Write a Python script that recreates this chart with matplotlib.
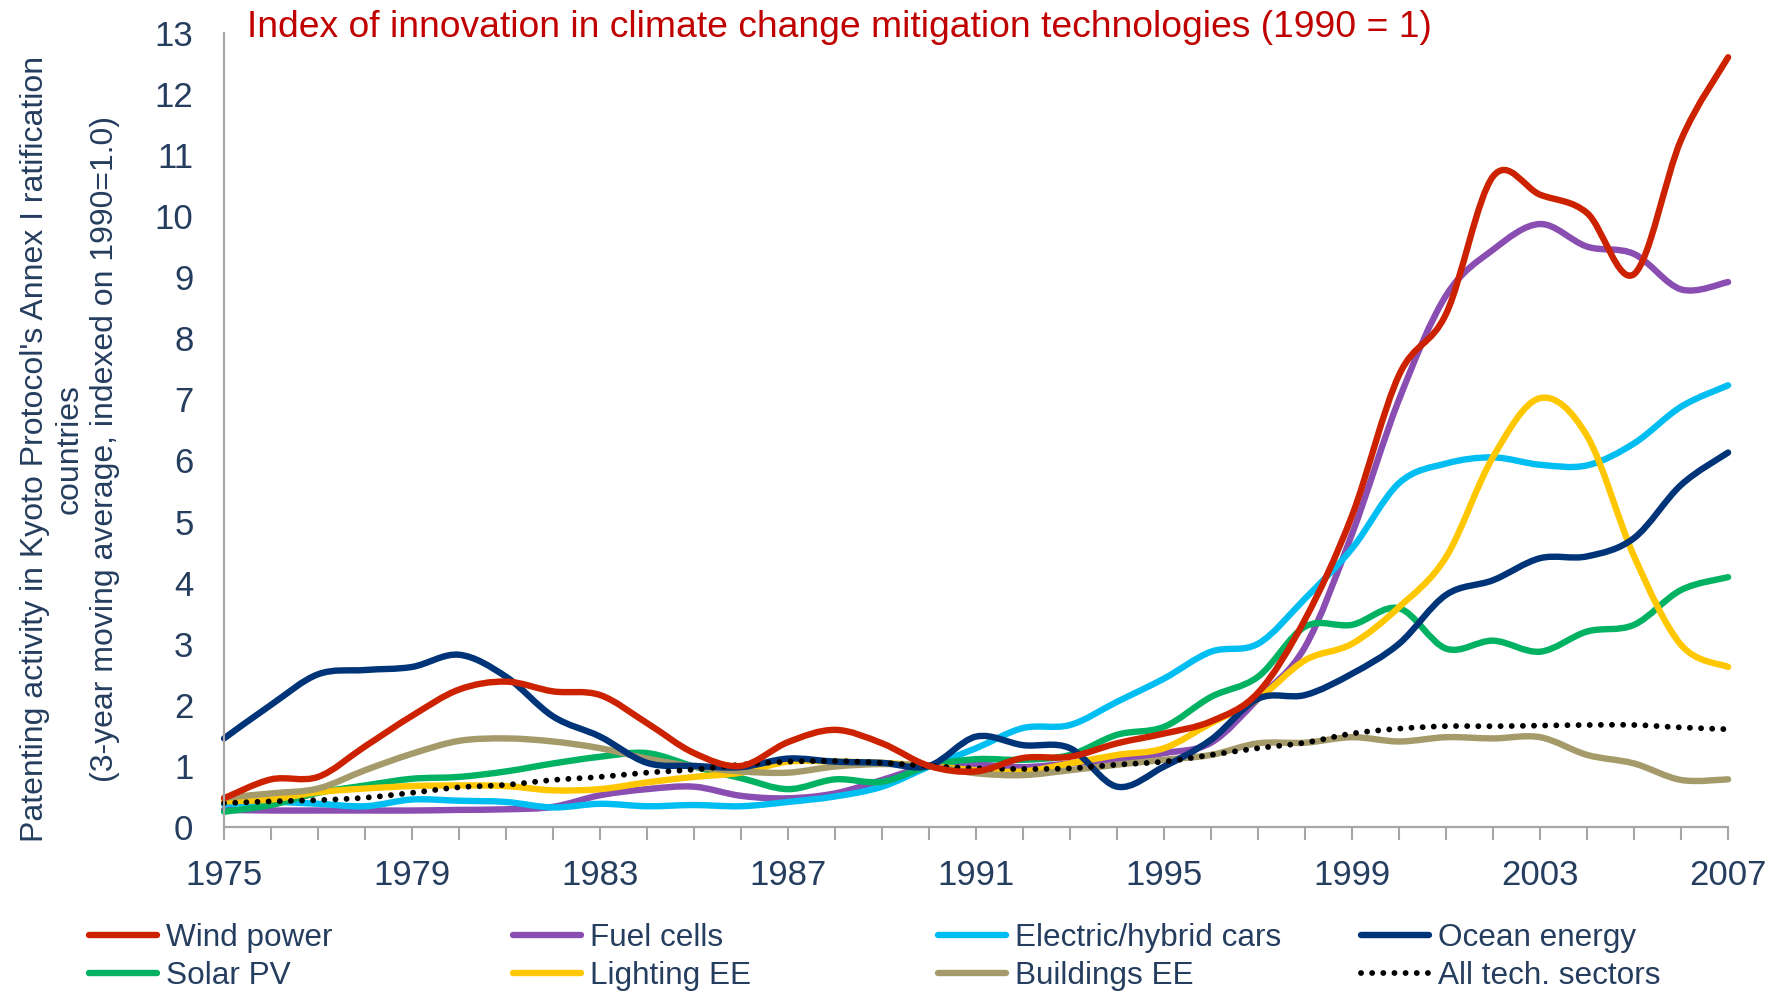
import matplotlib
matplotlib.use("Agg")
import matplotlib.pyplot as plt
import numpy as np
from matplotlib.path import Path
from matplotlib.patches import PathPatch
from matplotlib.lines import Line2D

plt.rcParams["font.family"] = ["Liberation Sans", "DejaVu Sans"]

# data (index, 1990 = 1)
years = list(range(1975, 2008))
wind = [0.47, 0.78, 0.82, 1.32, 1.82, 2.25, 2.38, 2.22, 2.16, 1.7, 1.21, 1.0, 1.39, 1.59, 1.37, 1.0,
        0.91, 1.13, 1.15, 1.37, 1.53, 1.73, 2.2, 3.4, 5.1, 7.4, 8.4, 10.65, 10.35, 10.05, 9.05, 11.25, 12.6]
fuel = [0.28, 0.27, 0.27, 0.27, 0.27, 0.28, 0.29, 0.33, 0.52, 0.62, 0.66, 0.51, 0.47, 0.55, 0.77, 1.0,
        1.02, 0.98, 1.04, 1.1, 1.21, 1.38, 2.1, 2.95, 4.8, 7.0, 8.7, 9.45, 9.87, 9.5, 9.38, 8.8, 8.92]
electric = [0.37, 0.41, 0.38, 0.34, 0.45, 0.43, 0.41, 0.32, 0.38, 0.34, 0.36, 0.34, 0.41, 0.5, 0.66, 0.99,
            1.29, 1.62, 1.67, 2.05, 2.43, 2.87, 3.0, 3.74, 4.56, 5.63, 5.95, 6.05, 5.93, 5.92, 6.28, 6.88, 7.23]
ocean = [1.45, 2.0, 2.5, 2.57, 2.62, 2.82, 2.46, 1.81, 1.48, 1.05, 1.0, 0.98, 1.12, 1.07, 1.05, 1.0,
         1.48, 1.34, 1.29, 0.66, 0.99, 1.43, 2.1, 2.16, 2.51, 3.0, 3.8, 4.04, 4.4, 4.43, 4.73, 5.6, 6.13]
solar = [0.25, 0.36, 0.56, 0.68, 0.79, 0.82, 0.91, 1.04, 1.15, 1.21, 0.99, 0.8, 0.62, 0.78, 0.74, 1.0,
         1.11, 1.1, 1.18, 1.51, 1.64, 2.13, 2.46, 3.28, 3.31, 3.58, 2.92, 3.05, 2.87, 3.2, 3.31, 3.88, 4.09]
lighting = [0.42, 0.45, 0.57, 0.63, 0.67, 0.68, 0.67, 0.6, 0.62, 0.73, 0.82, 0.89, 1.07, 1.07, 1.05, 1.0,
            0.93, 0.91, 1.04, 1.18, 1.29, 1.7, 2.1, 2.73, 3.0, 3.6, 4.42, 6.06, 7.02, 6.4, 4.43, 2.98, 2.62]
buildings = [0.48, 0.55, 0.63, 0.93, 1.2, 1.41, 1.45, 1.4, 1.29, 1.12, 0.99, 0.91, 0.89, 0.99, 1.03, 1.0,
             0.88, 0.85, 0.93, 1.02, 1.1, 1.18, 1.37, 1.38, 1.47, 1.4, 1.47, 1.45, 1.47, 1.18, 1.04, 0.77, 0.78]
all_tech = [0.39, 0.42, 0.44, 0.48, 0.56, 0.65, 0.69, 0.77, 0.82, 0.89, 0.94, 1.02, 1.07, 1.08, 1.05, 1.0,
            0.96, 0.95, 0.96, 1.02, 1.07, 1.18, 1.29, 1.38, 1.53, 1.61, 1.65, 1.65, 1.66, 1.67, 1.67, 1.63, 1.6]

text_col = "#253D5E"
grey = "#A6A6A6"

series = [
    ("Wind power", wind, "#CC2200", "-"),
    ("Solar PV", solar, "#00B261", "-"),
    ("Fuel cells", fuel, "#8A4DB1", "-"),
    ("Lighting EE", lighting, "#FFC700", "-"),
    ("Electric/hybrid cars", electric, "#00BEF2", "-"),
    ("Buildings EE", buildings, "#A59A6A", "-"),
    ("Ocean energy", ocean, "#003478", "-"),
    ("All tech. sectors", all_tech, "black", (0, (0.01, 1.9))),
]
# drawing order (back to front) as in the original
draw_order = ["Fuel cells", "Electric/hybrid cars", "Solar PV", "Lighting EE", "Buildings EE",
              "Ocean energy", "All tech. sectors", "Wind power"]


def smooth_path(x, y):
    # excel style smoothed line: cubic bezier through every data point
    pts = np.column_stack([x, y]).astype(float)
    n = len(pts)
    verts = [pts[0]]
    codes = [Path.MOVETO]
    for i in range(n - 1):
        p0 = pts[i - 1] if i > 0 else pts[i]
        p1 = pts[i]
        p2 = pts[i + 1]
        p3 = pts[i + 2] if i + 2 < n else p2
        verts += [p1 + (p2 - p0) / 6, p2 - (p3 - p1) / 6, p2]
        codes += [Path.CURVE4] * 3
    return Path(verts, codes)


fig = plt.figure(figsize=(17.81, 9.94), dpi=100)
ax = fig.add_axes([0.1258, 0.168, 0.8445, 0.799])

lookup = {s[0]: s for s in series}
for name in draw_order:
    label, vals, col, ls = lookup[name]
    lw = 4.6 if ls == "-" else 4.2
    patch = PathPatch(smooth_path(years, vals), fill=False, edgecolor=col, lw=lw,
                      linestyle=ls, capstyle="round", joinstyle="round", clip_on=False)
    ax.add_patch(patch)

ax.set_xlim(1975, 2007)
ax.set_ylim(0, 13)
ax.set_yticks(range(0, 14))
ax.set_xticks(years)
ax.set_xticklabels([str(y) if (y - 1975) % 4 == 0 else "" for y in years])
ax.tick_params(axis="x", direction="out", length=9, width=1.5, color=grey,
               labelsize=25, labelcolor=text_col, pad=14)
ax.tick_params(axis="y", length=0, labelsize=25, labelcolor=text_col, pad=22)
for side in ["top", "right"]:
    ax.spines[side].set_visible(False)
for side in ["left", "bottom"]:
    ax.spines[side].set_color(grey)
    ax.spines[side].set_linewidth(1.6)

fig.text(247 / 1781, 1 - 37 / 994,
         "Index of innovation in climate change mitigation technologies (1990 = 1)",
         color="#C00000", fontsize=26.8, ha="left", va="baseline")

fig.text(70 / 1781, 1 - 449 / 994,
         "Patenting activity in Kyoto Protocol's Annex I ratification\ncountries\n"
         "(3-year moving average, indexed on 1990=1.0)",
         rotation=90, ha="center", va="center", multialignment="center",
         fontsize=23, color=text_col, linespacing=1.22)

# legend: four columns of two entries each
col_x = [89, 513, 938, 1361]
for k in range(4):
    handles = []
    labels = []
    for label, vals, col, ls in series[2 * k:2 * k + 2]:
        if ls == "-":
            handles.append(Line2D([], [], color=col, lw=4.6, solid_capstyle="round"))
        else:
            handles.append(Line2D([], [], color=col, lw=4.2, linestyle=ls, dash_capstyle="round"))
        labels.append(label)
    leg = fig.legend(handles, labels, loc="upper left",
                     bbox_to_anchor=(col_x[k] / 1781, 1 - 923 / 994),
                     frameon=False, fontsize=22.7, handlelength=2.15, handletextpad=0.3,
                     labelspacing=0.25, borderpad=0, borderaxespad=0)
    for t in leg.get_texts():
        t.set_color(text_col)

fig.savefig("out.png", dpi=100)
